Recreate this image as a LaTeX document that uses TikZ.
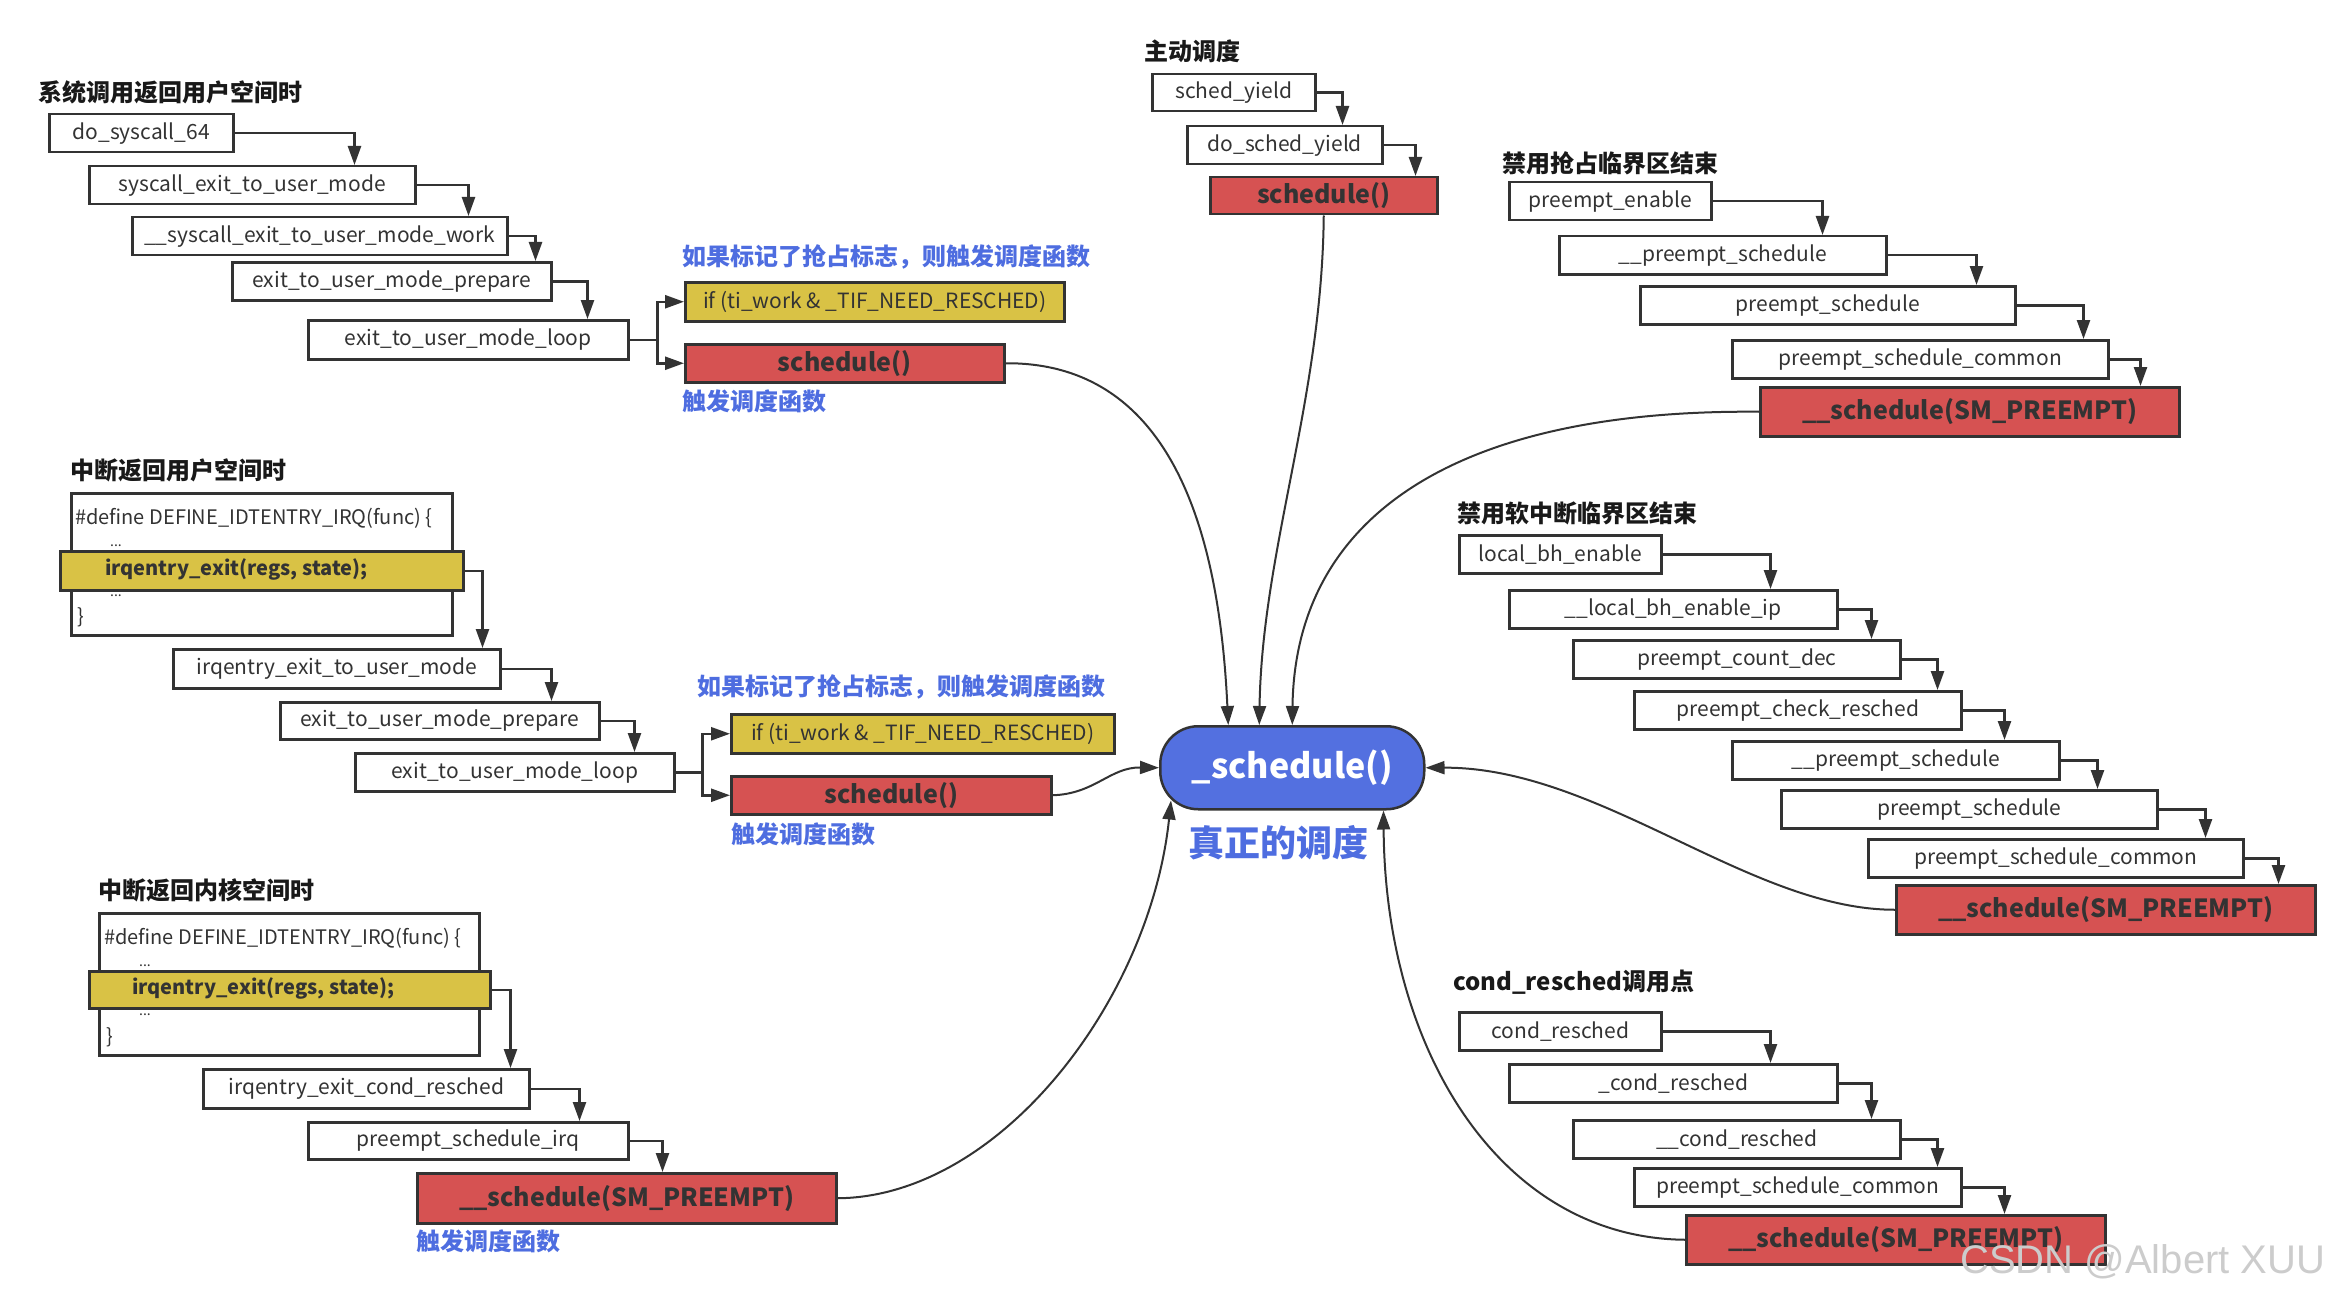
\documentclass[tikz,border=0pt]{standalone}
\usepackage{fontspec}
\setmainfont{Noto Sans CJK SC}
\newfontfamily\markfont{Liberation Sans}
\usetikzlibrary{arrows.meta,calc}

\definecolor{boxline}{HTML}{333333}
\definecolor{redfill}{HTML}{D65252}
\definecolor{yelfill}{HTML}{D9C245}
\definecolor{bluefill}{HTML}{5370E0}
\definecolor{bluetext}{HTML}{4E6DE0}

\tikzset{
  fbox/.style={draw=boxline, line width=2.5pt, fill=white, inner sep=0pt, anchor=north west,
    text=boxline, font=\fontsize{21}{24}\selectfont},
  redbox/.style={fbox, fill=redfill, font=\bfseries\fontsize{25}{30}\selectfont},
  yelbox/.style={fbox, fill=yelfill},
  grouptitle/.style={anchor=west, inner sep=0pt, text=black!90, font=\bfseries\fontsize{24}{28}\selectfont},
  bluenote/.style={grouptitle, text=bluetext},
  codetext/.style={anchor=west, inner sep=0pt, text=boxline, font=\fontsize{20}{24}\selectfont},
  stepline/.style={-{Triangle[length=19pt,width=13pt]}, line width=2.5pt, draw=boxline},
  linkline/.style={-{Triangle[length=19pt,width=13pt]}, line width=2pt, draw=boxline},
}

\begin{document}
\begin{tikzpicture}[x=1pt,y=-1pt]
\useasboundingbox (0,0) rectangle (2343,1300);

% syscall return to user space
\node[grouptitle] (sysret) at (38,92) {系统调用返回用户空间时};
\node[fbox, minimum width=184pt, minimum height=38pt] (dosys) at (48,113) {do\_syscall\_64};
\node[fbox, minimum width=326pt, minimum height=38pt] (sysexit) at (88,165) {syscall\_exit\_to\_user\_mode};
\node[fbox, minimum width=375pt, minimum height=38pt] (sysexitwork) at (131,216) {\_\_syscall\_exit\_to\_user\_mode\_work};
\node[fbox, minimum width=319pt, minimum height=38pt] (prep1) at (231,261) {exit\_to\_user\_mode\_prepare};
\node[fbox, minimum width=320pt, minimum height=39pt] (loop1) at (307,319) {exit\_to\_user\_mode\_loop};
\node[bluenote] (note1a) at (682,257) {如果标记了抢占标志，则触发调度函数};
\node[yelbox, minimum width=379pt, minimum height=39pt] (check1) at (684,281) {if (ti\_work \& \_TIF\_NEED\_RESCHED)};
\node[redbox, minimum width=319pt, minimum height=38pt] (sched1) at (684,343) {schedule()};
\node[bluenote] (note1b) at (682,401) {触发调度函数};
\draw[stepline] (dosys.east) -| ([xshift=-62pt]sysexit.north east);
\draw[stepline] (sysexit.east) -| ([xshift=-40pt]sysexitwork.north east);
\draw[stepline] (sysexitwork.east) -| ([xshift=-17pt]prep1.north east);
\draw[stepline] (prep1.east) -| ([xshift=-42pt]loop1.north east);
\coordinate (fork1) at ([xshift=28pt]loop1.east);
\draw[stepline] (loop1.east) -- (fork1) |- (check1.west);
\draw[stepline] (fork1) |- (sched1.west);

% voluntary
\node[grouptitle] (active) at (1144,51) {主动调度};
\node[fbox, minimum width=163pt, minimum height=37pt] (yield) at (1151,73) {sched\_yield};
\node[fbox, minimum width=195pt, minimum height=38pt] (doyield) at (1186,125) {do\_sched\_yield};
\node[redbox, minimum width=227pt, minimum height=37pt] (sched2) at (1209,176) {schedule()};
\draw[stepline] (yield.east) -| ([xshift=-41pt]doyield.north east);
\draw[stepline] (doyield.east) -| ([xshift=-23pt]sched2.north east);

% preempt disabled section ends
\node[grouptitle] (preemptoff) at (1502,163) {禁用抢占临界区结束};
\node[fbox, minimum width=202pt, minimum height=38pt] (penable) at (1508,181) {preempt\_enable};
\node[fbox, minimum width=327pt, minimum height=38pt] (pesched1) at (1558,235) {\_\_preempt\_schedule};
\node[fbox, minimum width=375pt, minimum height=38pt] (psched1) at (1639,285) {preempt\_schedule};
\node[fbox, minimum width=376pt, minimum height=38pt] (pcommon1) at (1731,339) {preempt\_schedule\_common};
\node[redbox, minimum width=419pt, minimum height=49pt] (core1) at (1759,386) {\_\_schedule(SM\_PREEMPT)};
\draw[stepline] (penable.east) -| ([xshift=-65pt]pesched1.north east);
\draw[stepline] (pesched1.east) -| ([xshift=-40pt]psched1.north east);
\draw[stepline] (psched1.east) -| ([xshift=-26pt]pcommon1.north east);
\draw[stepline] (pcommon1.east) -| ([xshift=-40pt]core1.north east);

% irq return to user space
\node[grouptitle] (irquser) at (70,470) {中断返回用户空间时};
\node[fbox, minimum width=381pt, minimum height=142pt] (irqdef1) at (70,492) {};
\node[codetext] (def1) at (75,518) {\#define DEFINE\_IDTENTRY\_IRQ(func) \{};
\node[codetext, font=\fontsize{14}{16}\selectfont] (dots1a) at (110,546) {...};
\node[codetext, font=\fontsize{14}{16}\selectfont] (dots1b) at (110,596) {...};
\node[codetext] (brace1) at (77,617) {\}};
\node[yelbox, minimum width=403pt, minimum height=39pt] (irqexit1) at (59,550) {};
\node[codetext, font=\bfseries\fontsize{20}{24}\selectfont] (irqexit1txt) at (105,569) {irqentry\_exit(regs, state);};
\node[fbox, minimum width=327pt, minimum height=39pt] (irqtouser) at (172,648) {irqentry\_exit\_to\_user\_mode};
\node[fbox, minimum width=319pt, minimum height=37pt] (prep2) at (279,701) {exit\_to\_user\_mode\_prepare};
\node[fbox, minimum width=319pt, minimum height=38pt] (loop2) at (354,752) {exit\_to\_user\_mode\_loop};
\node[bluenote] (note2a) at (697,687) {如果标记了抢占标志，则触发调度函数};
\node[yelbox, minimum width=383pt, minimum height=39pt] (check2) at (730,713) {if (ti\_work \& \_TIF\_NEED\_RESCHED)};
\node[redbox, minimum width=320pt, minimum height=38pt] (sched3) at (730,775) {schedule()};
\node[bluenote] (note2b) at (731,834) {触发调度函数};
\draw[stepline] (irqexit1.east) -| ([xshift=-19pt]irqtouser.north east);
\draw[stepline] (irqtouser.east) -| ([xshift=-49pt]prep2.north east);
\draw[stepline] (prep2.east) -| ([xshift=-41pt]loop2.north east);
\coordinate (fork2) at ([xshift=27pt]loop2.east);
\draw[stepline] (loop2.east) -- (fork2) |- (check2.west);
\draw[stepline] (fork2) |- (sched3.west);

% irq return to kernel space
\node[grouptitle] (irqkernel) at (98,890) {中断返回内核空间时};
\node[fbox, minimum width=380pt, minimum height=142pt] (irqdef2) at (98,912) {};
\node[codetext] (def2) at (104,938) {\#define DEFINE\_IDTENTRY\_IRQ(func) \{};
\node[codetext, font=\fontsize{14}{16}\selectfont] (dots2a) at (139,966) {...};
\node[codetext, font=\fontsize{14}{16}\selectfont] (dots2b) at (139,1015) {...};
\node[codetext] (brace2) at (106,1037) {\}};
\node[yelbox, minimum width=401pt, minimum height=37pt] (irqexit2) at (88,970) {};
\node[codetext, font=\bfseries\fontsize{20}{24}\selectfont] (irqexit2txt) at (132,988) {irqentry\_exit(regs, state);};
\node[fbox, minimum width=326pt, minimum height=39pt] (condirq) at (202,1068) {irqentry\_exit\_cond\_resched};
\node[fbox, minimum width=320pt, minimum height=37pt] (pschedirq) at (307,1121) {preempt\_schedule\_irq};
\node[redbox, minimum width=419pt, minimum height=50pt] (core2) at (416,1172) {\_\_schedule(SM\_PREEMPT)};
\node[bluenote] (note3) at (416,1241) {触发调度函数};
\draw[stepline] (irqexit2.east) -| ([xshift=-20pt]condirq.north east);
\draw[stepline] (condirq.east) -| ([xshift=-50pt]pschedirq.north east);
\draw[stepline] (pschedirq.east) -| ([xshift=-175pt]core2.north east);

% softirq disabled section ends
\node[grouptitle] (bhoff) at (1457,513) {禁用软中断临界区结束};
\node[fbox, minimum width=202pt, minimum height=38pt] (bhenable) at (1458,534) {local\_bh\_enable};
\node[fbox, minimum width=328pt, minimum height=38pt] (bhenableip) at (1508,589) {\_\_local\_bh\_enable\_ip};
\node[fbox, minimum width=327pt, minimum height=38pt] (countdec) at (1572,639) {preempt\_count\_dec};
\node[fbox, minimum width=327pt, minimum height=38pt] (checkresched) at (1633,690) {preempt\_check\_resched};
\node[fbox, minimum width=327pt, minimum height=38pt] (pesched2) at (1731,740) {\_\_preempt\_schedule};
\node[fbox, minimum width=376pt, minimum height=38pt] (psched2) at (1780,789) {preempt\_schedule};
\node[fbox, minimum width=375pt, minimum height=38pt] (pcommon2) at (1867,838) {preempt\_schedule\_common};
\node[redbox, minimum width=419pt, minimum height=49pt] (core3) at (1895,884) {\_\_schedule(SM\_PREEMPT)};
\draw[stepline] (bhenable.east) -| ([xshift=-68pt]bhenableip.north east);
\draw[stepline] (bhenableip.east) -| ([xshift=-30pt]countdec.north east);
\draw[stepline] (countdec.east) -| ([xshift=-25pt]checkresched.north east);
\draw[stepline] (checkresched.east) -| ([xshift=-56pt]pesched2.north east);
\draw[stepline] (pesched2.east) -| ([xshift=-61pt]psched2.north east);
\draw[stepline] (psched2.east) -| ([xshift=-39pt]pcommon2.north east);
\draw[stepline] (pcommon2.east) -| ([xshift=-38pt]core3.north east);

% cond_resched
\node[grouptitle] (condpoint) at (1453,982) {cond\_resched调用点};
\node[fbox, minimum width=202pt, minimum height=38pt] (cond1) at (1458,1011) {cond\_resched};
\node[fbox, minimum width=328pt, minimum height=38pt] (cond2) at (1508,1063) {\_cond\_resched};
\node[fbox, minimum width=327pt, minimum height=38pt] (cond3) at (1572,1119) {\_\_cond\_resched};
\node[fbox, minimum width=327pt, minimum height=38pt] (pcommon3) at (1633,1167) {preempt\_schedule\_common};
\node[redbox, minimum width=419pt, minimum height=49pt] (core4) at (1685,1214) {\_\_schedule(SM\_PREEMPT)};
\draw[stepline] (cond1.east) -| ([xshift=-68pt]cond2.north east);
\draw[stepline] (cond2.east) -| ([xshift=-30pt]cond3.north east);
\draw[stepline] (cond3.east) -| ([xshift=-25pt]pcommon3.north east);
\draw[stepline] (pcommon3.east) -| ([xshift=-102pt]core4.north east);

% the real scheduler
\node[fbox, fill=bluefill, rounded corners=38pt, minimum width=264pt, minimum height=83pt,
  text=white, font=\bfseries\fontsize{34}{40}\selectfont] (core) at (1159,725) {\_schedule()};
\node[inner sep=0pt, text=bluetext, font=\bfseries\fontsize{36}{40}\selectfont] (realsched) at (1278,843) {真正的调度};

\draw[linkline] (sched1.east) .. controls (1180,362) and (1220,550) .. ([xshift=-64pt]core.north);
\draw[linkline] (sched2.south) .. controls (1322,400) and (1262,550) .. ([xshift=-33pt]core.north);
\draw[linkline] (core1.west) .. controls (1450,409) and (1295,520) .. (core.north);
\draw[linkline] (sched3.east) .. controls (1095,794) and (1110,767) .. (core.west);
\draw[linkline] (core2.east) .. controls (1000,1197) and (1150,1000) .. ([xshift=12pt,yshift=10pt]core.south west);
\draw[linkline] (core3.west) .. controls (1750,910) and (1600,767) .. (core.east);
\draw[linkline] (core4.west) .. controls (1500,1238) and (1385,1050) .. ([xshift=-42pt]core.south east);

\node[anchor=west, inner sep=0pt, text=gray!40, font=\markfont\fontsize{40}{44}\selectfont] (mark) at (1960,1262) {CSDN @Albert XUU};
\end{tikzpicture}
\end{document}
